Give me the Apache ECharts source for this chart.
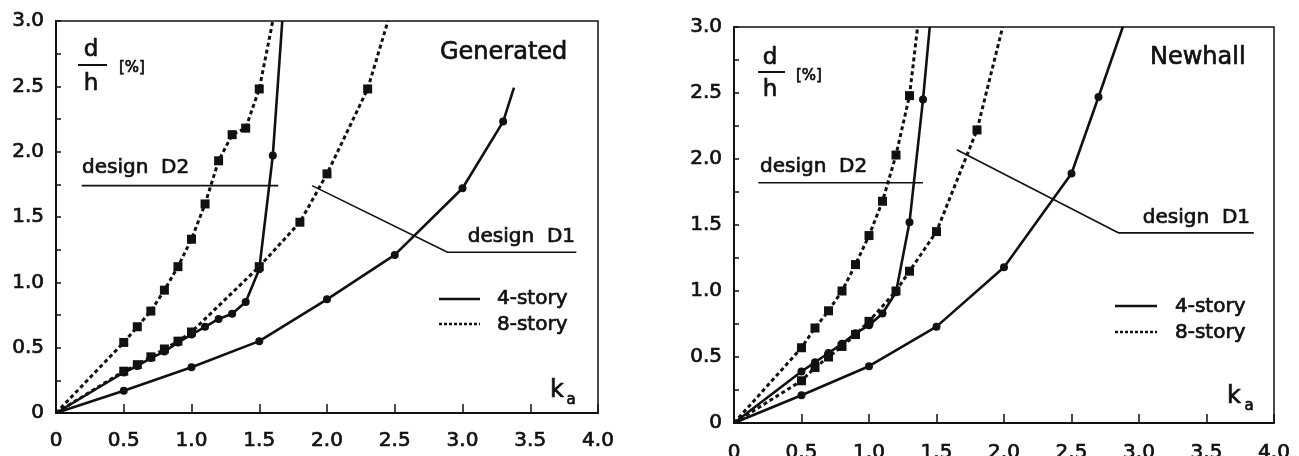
<!DOCTYPE html>
<html>
<head>
<meta charset="utf-8">
<script src="https://cdn.jsdelivr.net/npm/echarts@6/dist/echarts.min.js"></script>
<style>
html,body{margin:0;padding:0;background:#fff;}
#c{width:1299px;height:456px;}
</style>
</head>
<body>
<div id="c"></div>
<script>
// ---------- DATA ----------
const xTicks = [0, 0.5, 1.0, 1.5, 2.0, 2.5, 3.0, 3.5, 4.0];
const yTicks = [0, 0.5, 1.0, 1.5, 2.0, 2.5, 3.0];
const panelTitles = ['Generated', 'Newhall'];
const legendNames = ['4-story', '8-story'];

// Generated panel
const gen4Low   = [[0,0],[0.5,0.17],[1.0,0.35],[1.5,0.55],[2.0,0.87],[2.5,1.21],[3.0,1.72],[3.3,2.23],[3.38,2.49]];
const gen4Steep = [[0,0],[0.5,0.31],[0.6,0.36],[0.7,0.42],[0.8,0.47],[0.9,0.54],[1.0,0.60],[1.1,0.66],[1.2,0.72],[1.3,0.76],[1.4,0.85],[1.5,1.10],[1.6,1.97],[1.67,3.0]];
const gen8Mid   = [[0,0],[0.5,0.32],[0.6,0.37],[0.7,0.43],[0.8,0.49],[0.9,0.55],[1.0,0.62],[1.5,1.12],[1.8,1.46],[2.0,1.83],[2.3,2.48],[2.45,3.0]];
const gen8Steep = [[0,0],[0.5,0.54],[0.6,0.66],[0.7,0.78],[0.8,0.94],[0.9,1.12],[1.0,1.33],[1.1,1.60],[1.2,1.93],[1.3,2.13],[1.4,2.18],[1.5,2.48],[1.6,3.0]];
const genD2 = [[0.19,1.74],[1.64,1.74]];
const genD1 = [[1.89,1.74],[2.89,1.23],[3.84,1.23]];

// Newhall panel
const new4Low   = [[0,0],[0.5,0.21],[1.0,0.43],[1.5,0.73],[2.0,1.18],[2.5,1.89],[2.7,2.47],[2.88,3.0]];
const new4Steep = [[0,0],[0.5,0.39],[0.6,0.46],[0.7,0.53],[0.8,0.60],[0.9,0.68],[1.0,0.74],[1.1,0.83],[1.2,0.99],[1.3,1.52],[1.4,2.45],[1.45,3.0]];
const new8Mid   = [[0,0],[0.5,0.32],[0.6,0.42],[0.7,0.50],[0.8,0.58],[0.9,0.67],[1.0,0.77],[1.2,1.00],[1.3,1.15],[1.5,1.45],[1.8,2.22],[1.99,3.0]];
const new8Steep = [[0,0],[0.5,0.57],[0.6,0.72],[0.7,0.85],[0.8,1.00],[0.9,1.20],[1.0,1.42],[1.1,1.68],[1.2,2.03],[1.3,2.48],[1.36,3.0]];
const newD2 = [[0.18,1.82],[1.40,1.82]];
const newD1 = [[1.65,2.07],[2.85,1.44],[3.85,1.44]];

// ---------- CHART ----------
const FONT = 'DejaVu Sans';
const INK = '#111';
const TB = 0.7; // text thickening to mimic the heavy scanned print

function curve(pts, idx, dashed) {
  return {
    type: 'line', xAxisIndex: idx, yAxisIndex: idx,
    data: pts.map((p, i) => (i === 0 || i === pts.length - 1) ? {value: p, symbol: 'none'} : {value: p}),
    symbol: dashed ? 'rect' : 'circle',
    symbolSize: dashed ? 9 : 8,
    itemStyle: {color: INK},
    lineStyle: {color: INK, width: dashed ? 3 : 2.6, type: dashed ? [4, 3] : 'solid'},
    animation: false, z: 3
  };
}
function designLine(pts, idx) {
  return {
    type: 'line', xAxisIndex: idx, yAxisIndex: idx, data: pts,
    symbol: 'none', lineStyle: {color: INK, width: 1.6}, animation: false, z: 2
  };
}
function xAxis(idx, margin) {
  return {
    gridIndex: idx, type: 'value', min: 0, max: 4, interval: 0.5,
    axisLine: {show: true, onZero: false, lineStyle: {color: INK, width: 2}},
    axisTick: {show: true, inside: true, length: 9, lineStyle: {color: INK, width: 1.5}},
    splitLine: {show: false},
    axisLabel: {
      color: INK, fontFamily: FONT, fontSize: 20, margin: margin, textBorderColor: INK, textBorderWidth: TB,
      formatter: v => { const t = xTicks.find(x => Math.abs(x - v) < 1e-6); return t === 0 ? '0' : t.toFixed(1); }
    }
  };
}
function yAxis(idx) {
  return {
    gridIndex: idx, type: 'value', min: 0, max: 3, interval: 0.5,
    axisLine: {show: true, onZero: false, lineStyle: {color: INK, width: 2}},
    axisTick: {show: true, inside: true, length: 5, lineStyle: {color: INK, width: 1.5}},
    minorTick: {show: true, splitNumber: 2, length: 5, lineStyle: {color: INK, width: 1.5}},
    splitLine: {show: false},
    axisLabel: {
      color: INK, fontFamily: FONT, fontSize: 20, margin: 12, textBorderColor: INK, textBorderWidth: TB,
      formatter: v => { const t = yTicks.find(y => Math.abs(y - v) < 1e-6); return t === 0 ? '0' : t.toFixed(1); }
    }
  };
}

function txt(x, y, s, size, align) {
  return {type: 'text', x: x, y: y, z: 10,
    style: {text: s, fill: INK, stroke: INK, lineWidth: TB, font: size + 'px "' + FONT + '"', textAlign: align || 'left', textVerticalAlign: 'middle'}};
}
function seg(x1, y1, x2, y2, w, dash) {
  return {type: 'line', z: 10, shape: {x1: x1, y1: y1, x2: x2, y2: y2},
    style: {stroke: INK, lineWidth: w, lineDash: dash || null}};
}

const graphics = [
  // left panel annotations
  txt(440, 53, panelTitles[0], 24),
  txt(91, 50, 'd', 23, 'center'), seg(78, 65, 107, 65, 2), txt(91, 84, 'h', 23, 'center'), txt(119, 68, '[%]', 15),
  txt(82, 168, 'design  D2', 20),
  txt(575, 237, 'design  D1', 20, 'right'),
  seg(439, 299, 480, 299, 2.5), txt(497, 299, legendNames[0], 20),
  seg(439, 324, 480, 324, 2.5, [3, 2]), txt(497, 325, legendNames[1], 20),
  txt(557, 391, 'k', 24, 'center'), txt(571, 400, 'a', 15, 'center'),
  // right panel annotations
  txt(1150, 58, panelTitles[1], 24),
  txt(770, 58, 'd', 23, 'center'), seg(758, 72, 785, 72, 2), txt(770, 90, 'h', 23, 'center'), txt(796, 76, '[%]', 15),
  txt(760, 167, 'design  D2', 20),
  txt(1250, 218, 'design  D1', 20, 'right'),
  seg(1115, 306, 1157, 306, 2.5), txt(1175, 307, legendNames[0], 20),
  seg(1115, 332, 1157, 332, 2.5, [3, 2]), txt(1175, 333, legendNames[1], 20),
  txt(1234, 397, 'k', 24, 'center'), txt(1249, 406, 'a', 15, 'center')
];

const chart = echarts.init(document.getElementById('c'), null, {renderer: 'canvas'});
chart.setOption({
  backgroundColor: '#fff',
  animation: false,
  grid: [
    {left: 56, top: 21, width: 542, height: 392, outerBoundsMode: 'none', containLabel: false, show: true, borderColor: INK, borderWidth: 1.5, backgroundColor: 'transparent'},
    {left: 734, top: 27, width: 540, height: 396, outerBoundsMode: 'none', containLabel: false, show: true, borderColor: INK, borderWidth: 1.5, backgroundColor: 'transparent'}
  ],
  xAxis: [xAxis(0, 18), xAxis(1, 20)],
  yAxis: [yAxis(0), yAxis(1)],
  series: [
    curve(gen4Low, 0, false), curve(gen4Steep, 0, false), curve(gen8Mid, 0, true), curve(gen8Steep, 0, true),
    designLine(genD2, 0), designLine(genD1, 0),
    curve(new4Low, 1, false), curve(new4Steep, 1, false), curve(new8Mid, 1, true), curve(new8Steep, 1, true),
    designLine(newD2, 1), designLine(newD1, 1)
  ],
  graphic: graphics
});
</script>
</body>
</html>
